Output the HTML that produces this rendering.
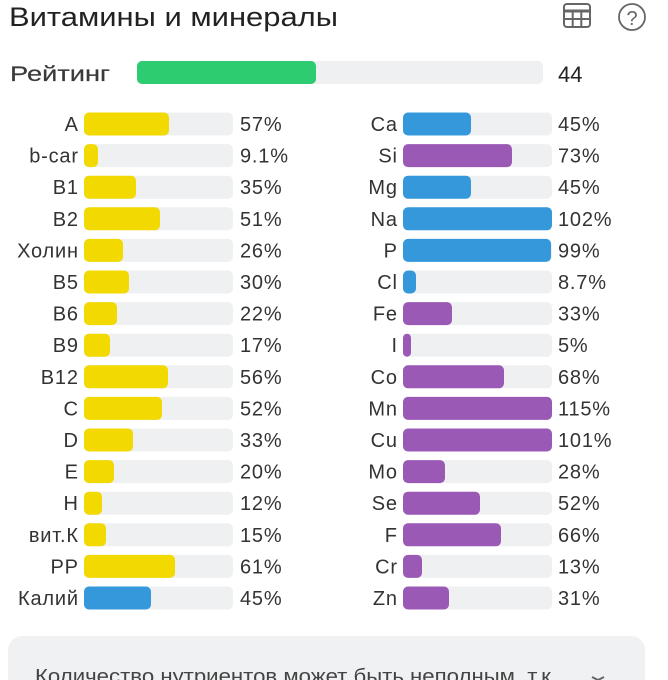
<!DOCTYPE html>
<html><head><meta charset="utf-8">
<style>
html,body{margin:0;padding:0;background:#fff;width:668px;height:680px;overflow:hidden;}
svg{display:block;}
text{font-family:"Liberation Sans","Noto Sans CJK SC",sans-serif;}
.r text{letter-spacing:0.8px;}
</style></head>
<body>
<svg width="668" height="680" viewBox="0 0 668 680" xmlns="http://www.w3.org/2000/svg" overflow="hidden">
<rect width="668" height="680" fill="#fff"/>
<text x="9" y="26" font-size="27" fill="#222" textLength="329" lengthAdjust="spacingAndGlyphs">Витамины и минералы</text>
<!-- table icon -->
<g fill="none" stroke="#666" stroke-width="2">
<rect x="564" y="4" width="26" height="23" rx="3"/>
<line x1="564" y1="11" x2="590" y2="11" stroke-width="3"/>
<line x1="564" y1="19" x2="590" y2="19"/>
<line x1="572.7" y1="11" x2="572.7" y2="27"/>
<line x1="581.3" y1="11" x2="581.3" y2="27"/>
</g>
<circle cx="632" cy="17" r="13" fill="none" stroke="#666" stroke-width="1.8"/>
<text x="632" y="25" font-size="20" fill="#666" text-anchor="middle">?</text>

<text x="10" y="81" font-size="21" fill="#3a3a3a" stroke="#3a3a3a" stroke-width="0.2" textLength="100" lengthAdjust="spacingAndGlyphs">Рейтинг</text>
<rect x="137" y="61" width="406" height="23" rx="5" fill="#eff0f2"/>
<rect x="137" y="61" width="179" height="23" rx="5" fill="#2ecc71"/>
<text x="558" y="82" font-size="22" fill="#222">44</text>

<g class="r" font-size="20" fill="#333">
<!-- left column -->
<g>
<text x="78.8" y="131" text-anchor="end">A</text><rect x="84" y="112.5" width="149" height="23" rx="5" fill="#eff0f2"/><rect x="84" y="112.5" width="85" height="23" rx="5" fill="#f2d900"/><text x="240" y="131">57%</text>
<text x="78.8" y="162.6" text-anchor="end">b-car</text><rect x="84" y="144.1" width="149" height="23" rx="5" fill="#eff0f2"/><rect x="84" y="144.1" width="14" height="23" rx="5" fill="#f2d900"/><text x="240" y="162.6">9.1%</text>
<text x="78.8" y="194.2" text-anchor="end">B1</text><rect x="84" y="175.7" width="149" height="23" rx="5" fill="#eff0f2"/><rect x="84" y="175.7" width="52" height="23" rx="5" fill="#f2d900"/><text x="240" y="194.2">35%</text>
<text x="78.8" y="225.8" text-anchor="end">B2</text><rect x="84" y="207.3" width="149" height="23" rx="5" fill="#eff0f2"/><rect x="84" y="207.3" width="76" height="23" rx="5" fill="#f2d900"/><text x="240" y="225.8">51%</text>
<text x="78.8" y="257.4" text-anchor="end">Холин</text><rect x="84" y="238.9" width="149" height="23" rx="5" fill="#eff0f2"/><rect x="84" y="238.9" width="39" height="23" rx="5" fill="#f2d900"/><text x="240" y="257.4">26%</text>
<text x="78.8" y="289" text-anchor="end">B5</text><rect x="84" y="270.5" width="149" height="23" rx="5" fill="#eff0f2"/><rect x="84" y="270.5" width="45" height="23" rx="5" fill="#f2d900"/><text x="240" y="289">30%</text>
<text x="78.8" y="320.6" text-anchor="end">B6</text><rect x="84" y="302.1" width="149" height="23" rx="5" fill="#eff0f2"/><rect x="84" y="302.1" width="33" height="23" rx="5" fill="#f2d900"/><text x="240" y="320.6">22%</text>
<text x="78.8" y="352.2" text-anchor="end">B9</text><rect x="84" y="333.7" width="149" height="23" rx="5" fill="#eff0f2"/><rect x="84" y="333.7" width="26" height="23" rx="5" fill="#f2d900"/><text x="240" y="352.2">17%</text>
<text x="78.8" y="383.8" text-anchor="end">B12</text><rect x="84" y="365.3" width="149" height="23" rx="5" fill="#eff0f2"/><rect x="84" y="365.3" width="84" height="23" rx="5" fill="#f2d900"/><text x="240" y="383.8">56%</text>
<text x="78.8" y="415.4" text-anchor="end">C</text><rect x="84" y="396.9" width="149" height="23" rx="5" fill="#eff0f2"/><rect x="84" y="396.9" width="78" height="23" rx="5" fill="#f2d900"/><text x="240" y="415.4">52%</text>
<text x="78.8" y="447" text-anchor="end">D</text><rect x="84" y="428.5" width="149" height="23" rx="5" fill="#eff0f2"/><rect x="84" y="428.5" width="49" height="23" rx="5" fill="#f2d900"/><text x="240" y="447">33%</text>
<text x="78.8" y="478.6" text-anchor="end">E</text><rect x="84" y="460.1" width="149" height="23" rx="5" fill="#eff0f2"/><rect x="84" y="460.1" width="30" height="23" rx="5" fill="#f2d900"/><text x="240" y="478.6">20%</text>
<text x="78.8" y="510.2" text-anchor="end">H</text><rect x="84" y="491.7" width="149" height="23" rx="5" fill="#eff0f2"/><rect x="84" y="491.7" width="18" height="23" rx="5" fill="#f2d900"/><text x="240" y="510.2">12%</text>
<text x="78.8" y="541.8" text-anchor="end">вит.К</text><rect x="84" y="523.3" width="149" height="23" rx="5" fill="#eff0f2"/><rect x="84" y="523.3" width="22" height="23" rx="5" fill="#f2d900"/><text x="240" y="541.8">15%</text>
<text x="78.8" y="573.4" text-anchor="end">PP</text><rect x="84" y="554.9" width="149" height="23" rx="5" fill="#eff0f2"/><rect x="84" y="554.9" width="91" height="23" rx="5" fill="#f2d900"/><text x="240" y="573.4">61%</text>
<text x="78.8" y="605" text-anchor="end">Калий</text><rect x="84" y="586.5" width="149" height="23" rx="5" fill="#eff0f2"/><rect x="84" y="586.5" width="67" height="23" rx="5" fill="#3498db"/><text x="240" y="605">45%</text>
</g>
<!-- right column -->
<g>
<text x="397.8" y="131" text-anchor="end">Ca</text><rect x="403" y="112.5" width="149" height="23" rx="5" fill="#eff0f2"/><rect x="403" y="112.5" width="68" height="23" rx="5" fill="#3498db"/><text x="558" y="131">45%</text>
<text x="397.8" y="162.6" text-anchor="end">Si</text><rect x="403" y="144.1" width="149" height="23" rx="5" fill="#eff0f2"/><rect x="403" y="144.1" width="109" height="23" rx="5" fill="#9b59b6"/><text x="558" y="162.6">73%</text>
<text x="397.8" y="194.2" text-anchor="end">Mg</text><rect x="403" y="175.7" width="149" height="23" rx="5" fill="#eff0f2"/><rect x="403" y="175.7" width="68" height="23" rx="5" fill="#3498db"/><text x="558" y="194.2">45%</text>
<text x="397.8" y="225.8" text-anchor="end">Na</text><rect x="403" y="207.3" width="149" height="23" rx="5" fill="#eff0f2"/><rect x="403" y="207.3" width="149" height="23" rx="5" fill="#3498db"/><text x="558" y="225.8">102%</text>
<text x="397.8" y="257.4" text-anchor="end">P</text><rect x="403" y="238.9" width="149" height="23" rx="5" fill="#eff0f2"/><rect x="403" y="238.9" width="148" height="23" rx="5" fill="#3498db"/><text x="558" y="257.4">99%</text>
<text x="397.8" y="289" text-anchor="end">Cl</text><rect x="403" y="270.5" width="149" height="23" rx="5" fill="#eff0f2"/><rect x="403" y="270.5" width="13" height="23" rx="5" fill="#3498db"/><text x="558" y="289">8.7%</text>
<text x="397.8" y="320.6" text-anchor="end">Fe</text><rect x="403" y="302.1" width="149" height="23" rx="5" fill="#eff0f2"/><rect x="403" y="302.1" width="49" height="23" rx="5" fill="#9b59b6"/><text x="558" y="320.6">33%</text>
<text x="397.8" y="352.2" text-anchor="end">I</text><rect x="403" y="333.7" width="149" height="23" rx="5" fill="#eff0f2"/><rect x="403" y="333.7" width="8" height="23" rx="4" fill="#9b59b6"/><text x="558" y="352.2">5%</text>
<text x="397.8" y="383.8" text-anchor="end">Co</text><rect x="403" y="365.3" width="149" height="23" rx="5" fill="#eff0f2"/><rect x="403" y="365.3" width="101" height="23" rx="5" fill="#9b59b6"/><text x="558" y="383.8">68%</text>
<text x="397.8" y="415.4" text-anchor="end">Mn</text><rect x="403" y="396.9" width="149" height="23" rx="5" fill="#eff0f2"/><rect x="403" y="396.9" width="149" height="23" rx="5" fill="#9b59b6"/><text x="558" y="415.4">115%</text>
<text x="397.8" y="447" text-anchor="end">Cu</text><rect x="403" y="428.5" width="149" height="23" rx="5" fill="#eff0f2"/><rect x="403" y="428.5" width="149" height="23" rx="5" fill="#9b59b6"/><text x="558" y="447">101%</text>
<text x="397.8" y="478.6" text-anchor="end">Mo</text><rect x="403" y="460.1" width="149" height="23" rx="5" fill="#eff0f2"/><rect x="403" y="460.1" width="42" height="23" rx="5" fill="#9b59b6"/><text x="558" y="478.6">28%</text>
<text x="397.8" y="510.2" text-anchor="end">Se</text><rect x="403" y="491.7" width="149" height="23" rx="5" fill="#eff0f2"/><rect x="403" y="491.7" width="77" height="23" rx="5" fill="#9b59b6"/><text x="558" y="510.2">52%</text>
<text x="397.8" y="541.8" text-anchor="end">F</text><rect x="403" y="523.3" width="149" height="23" rx="5" fill="#eff0f2"/><rect x="403" y="523.3" width="98" height="23" rx="5" fill="#9b59b6"/><text x="558" y="541.8">66%</text>
<text x="397.8" y="573.4" text-anchor="end">Cr</text><rect x="403" y="554.9" width="149" height="23" rx="5" fill="#eff0f2"/><rect x="403" y="554.9" width="19" height="23" rx="5" fill="#9b59b6"/><text x="558" y="573.4">13%</text>
<text x="397.8" y="605" text-anchor="end">Zn</text><rect x="403" y="586.5" width="149" height="23" rx="5" fill="#eff0f2"/><rect x="403" y="586.5" width="46" height="23" rx="5" fill="#9b59b6"/><text x="558" y="605">31%</text>
</g>
</g>

<path d="M8,680 V650 A14,14 0 0 1 22,636 H631 A14,14 0 0 1 645,650 V680 Z" fill="#f0f1f3"/>
<text x="35" y="683" font-size="20" fill="#444" textLength="522" lengthAdjust="spacingAndGlyphs">Количество нутриентов может быть неполным, т.к.</text>
<polyline points="592,677 598,680 604,677" fill="none" stroke="#666" stroke-width="2"/>
</svg>
</body></html>
